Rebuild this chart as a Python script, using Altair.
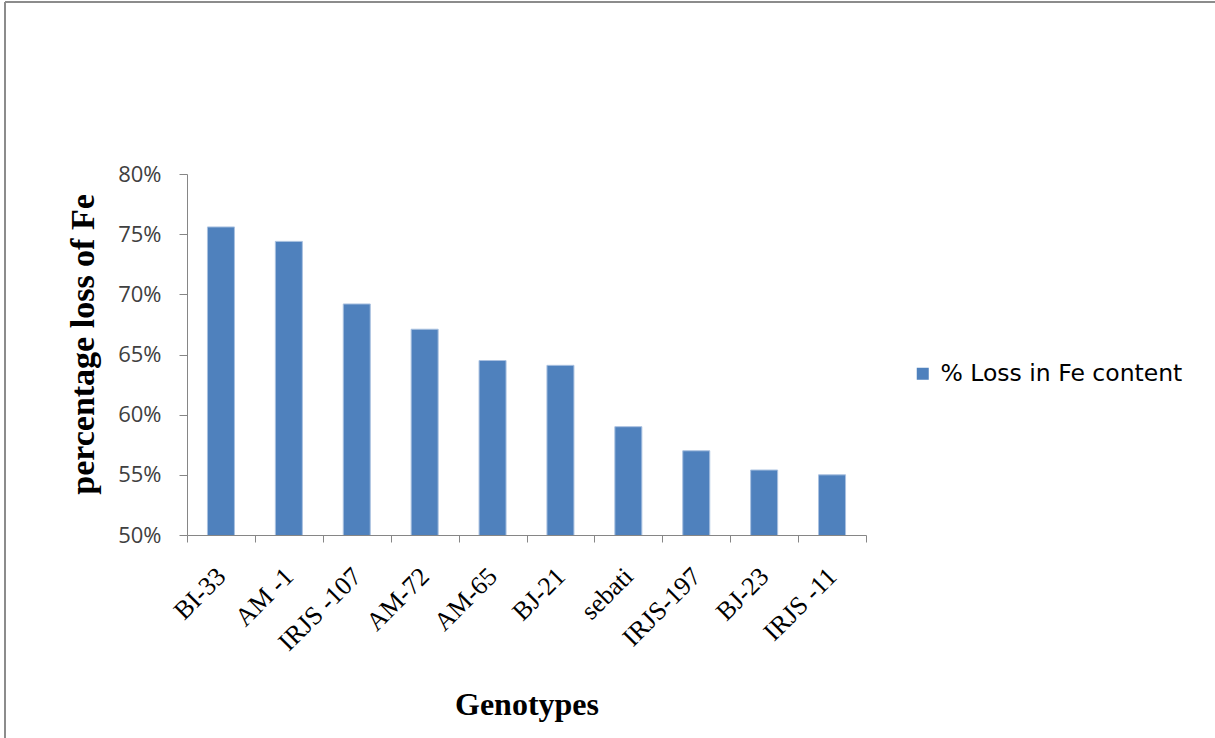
import altair as alt
import pandas as pd

# Genotypes and the percentage loss of iron in each
genotypes = ["BI-33", "AM -1", "IRJS -107", "AM-72", "AM-65",
             "BJ-21", "sebati", "IRJS-197", "BJ-23", "IRJS -11"]
loss_fe = [0.756, 0.744, 0.692, 0.671, 0.645,
           0.641, 0.590, 0.570, 0.554, 0.550]
series_name = "% Loss in Fe content"
y_ticks = [0.50, 0.55, 0.60, 0.65, 0.70, 0.75, 0.80]

df = pd.DataFrame({"Genotype": genotypes, "Loss": loss_fe, "Series": series_name})

W, H = 679, 361
AXIS_GREY = "#868686"

bars = alt.Chart(df).mark_bar(
    size=27, color="#4F81BD", stroke="#A9C1E0", strokeWidth=1, clip=True
).encode(
    x=alt.X("Genotype:N", sort=genotypes, title="Genotypes",
            scale=alt.Scale(paddingInner=0, paddingOuter=0),
            axis=alt.Axis(labelAngle=-45, labelAlign="right", labelBaseline="middle",
                          labelFont="Liberation Serif", labelFontSize=26, labelColor="#000000",
                          labelPadding=30, tickBand="extent", tickSize=7,
                          tickColor=AXIS_GREY, domainColor=AXIS_GREY,
                          titleFont="Liberation Serif", titleFontSize=32, titleFontWeight="bold",
                          titleColor="#000000", titlePadding=34)),
    y=alt.Y("Loss:Q", title="percentage loss of Fe",
            scale=alt.Scale(domain=[0.5, 0.8], nice=False, zero=False),
            axis=alt.Axis(values=y_ticks, format=".0%", grid=False, tickSize=8,
                          tickColor=AXIS_GREY, domainColor=AXIS_GREY,
                          labelFont="Open Sans", labelFontSize=22, labelColor="#404040",
                          labelPadding=18,
                          titleFont="Liberation Serif", titleFontSize=34, titleFontWeight="bold",
                          titleColor="#000000", titlePadding=17, titleY=170)),
    color=alt.Color("Series:N", scale=alt.Scale(range=["#4F81BD"]),
                    legend=alt.Legend(title=None, orient="none", legendX=724, legendY=188,
                                      symbolType="square", symbolSize=144,
                                      symbolStrokeWidth=0, labelFont="DejaVu Sans",
                                      labelFontSize=23.5, labelColor="#000000",
                                      labelOffset=6, labelLimit=400)),
)

# Grey frame along the top and left edges of the page
frame_top = alt.Chart(df).mark_rule(color="#8C8C8C", strokeWidth=2).encode(
    x=alt.value(-182), x2=alt.value(1215), y=alt.value(-172)
)
frame_left = alt.Chart(df).mark_rule(color="#8C8C8C", strokeWidth=2).encode(
    x=alt.value(-182), y=alt.value(-172), y2=alt.value(570)
)

chart = alt.layer(bars, frame_top, frame_left).properties(
    width=W, height=H,
    autosize=alt.AutoSizeParams(type="none"),
    padding={"left": 187, "top": 174, "right": 349, "bottom": 203},
    background="#FFFFFF",
).configure_view(stroke=None)

chart.save("out.html", embed_options={"renderer": "svg", "actions": False})
